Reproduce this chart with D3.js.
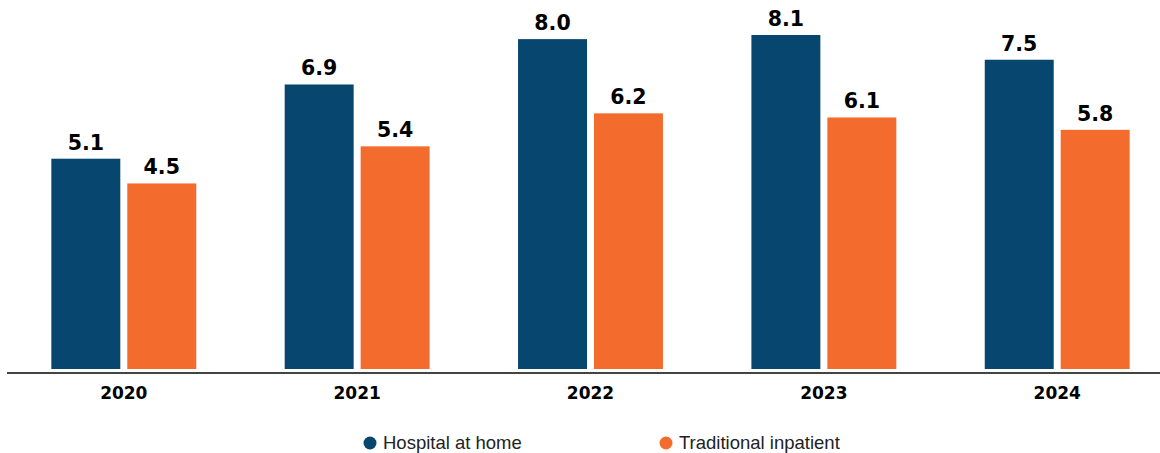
<!DOCTYPE html>
<html><head><meta charset="utf-8">
<script src="https://cdn.jsdelivr.net/npm/d3@7"></script>
<style>body{margin:0;background:#fff}svg{display:block}</style>
</head><body>
<svg id="c" width="1160" height="453"></svg>
<script>
const years = ["2020","2021","2022","2023","2024"];
const seriesNames = ["Hospital at home","Traditional inpatient"];
const hospitalAtHome = [5.1, 6.9, 8.0, 8.1, 7.5];
const traditionalInpatient = [4.5, 5.4, 6.2, 6.1, 5.8];
const colors = ["#07476F", "#F36C2D"];

const svg = d3.select("#c");
const x0 = d3.scaleBand().domain(years).range([7, 1174]).paddingInner(0.379).paddingOuter(0.19);
const x1 = d3.scaleBand().domain(seriesNames).range([0, x0.bandwidth()]).paddingInner(0.092);
const y = d3.scaleLinear().domain([0, 8.1]).range([369, 35]);

const data = years.map((yr, i) => ({year: yr, vals: [hospitalAtHome[i], traditionalInpatient[i]]}));

const g = svg.append("g").selectAll("g").data(data).join("g")
  .attr("transform", d => `translate(${x0(d.year)},0)`);
g.selectAll("rect").data(d => d.vals.map((v, j) => ({v, s: seriesNames[j], j}))).join("rect")
  .attr("x", d => x1(d.s)).attr("width", x1.bandwidth())
  .attr("y", d => y(d.v)).attr("height", d => y(0) - y(d.v))
  .attr("fill", d => colors[d.j]);
g.selectAll("text").data(d => d.vals.map((v, j) => ({v, s: seriesNames[j]}))).join("text")
  .attr("x", d => x1(d.s) + x1.bandwidth()/2).attr("y", d => y(d.v) - 9)
  .attr("text-anchor", "middle").attr("font-family", "DejaVu Sans").attr("font-weight", "bold")
  .attr("font-size", 20.5).attr("fill", "#000").text(d => d.v.toFixed(1));

// axis
const axis = d3.axisBottom(x0).tickSize(0).tickPadding(0);
const ax = svg.append("g").attr("transform", "translate(0,373)").call(axis);
ax.select(".domain").attr("d", "M7,0H1160").attr("stroke", "#444").attr("stroke-width", 2);
ax.selectAll(".tick text").attr("y", 26).attr("dy", 0)
  .attr("font-family", "DejaVu Sans").attr("font-weight", "bold").attr("font-size", 17).attr("fill", "#000");

// legend
const legX = [370, 666];
const leg = svg.append("g").selectAll("g").data(seriesNames).join("g")
  .attr("transform", (d, i) => `translate(${legX[i]},443)`);
leg.append("circle").attr("r", 6.5).attr("fill", (d, i) => colors[i]);
leg.append("text").attr("x", 13).attr("y", 6).attr("font-family", "Liberation Sans")
  .attr("font-size", 18.5).attr("fill", "#222").text(d => d);
</script>
</body></html>
